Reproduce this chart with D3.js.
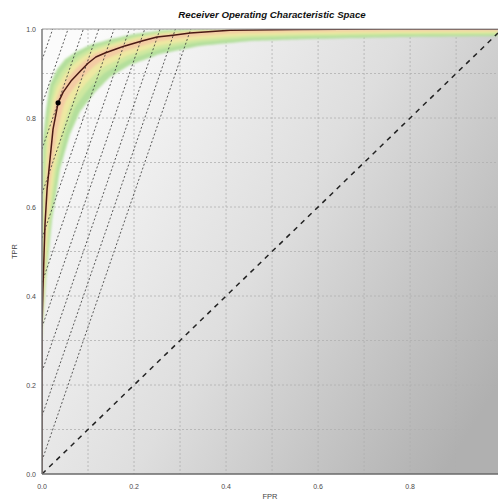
<!DOCTYPE html>
<html>
<head>
<meta charset="utf-8">
<script src="https://cdn.jsdelivr.net/npm/d3@7/dist/d3.min.js"></script>
<style>
  html, body { margin: 0; padding: 0; background: #fff; }
  svg { display: block; }
</style>
</head>
<body>
<svg id="chart" width="498" height="500"></svg>
<script>
// ---- data ----
const title = "Receiver Operating Characteristic Space";
const xLabel = "FPR";
const yLabel = "TPR";
const xTickLabels = [0.0, 0.2, 0.4, 0.6, 0.8];
const yTickLabels = [0.0, 0.2, 0.4, 0.6, 0.8, 1.0];
const gridValues = [0.1, 0.2, 0.3, 0.4, 0.5, 0.6, 0.7, 0.8, 0.9, 1.0];
const xMax = 0.991;

// ROC curve
const rocFPR = [0, 0, 0.002, 0.0065, 0.011, 0.017, 0.024, 0.035, 0.046, 0.063, 0.083, 0.100, 0.117, 0.137, 0.161, 0.180, 0.217, 0.25, 0.285, 0.322, 0.409, 0.55, 0.75, 0.991];
const rocTPR = [0, 0.324, 0.414, 0.56, 0.64, 0.703, 0.775, 0.834, 0.858, 0.883, 0.905, 0.923, 0.937, 0.946, 0.955, 0.962, 0.973, 0.982, 0.986, 0.991, 0.997, 0.999, 1.0, 1.0];

// confidence band bounds
const upperFPR = [0, 0.002, 0.009, 0.017, 0.033, 0.05, 0.076, 0.104, 0.148, 0.202, 0.267, 0.343, 0.991];
const upperTPR = [0.617, 0.752, 0.82, 0.876, 0.91, 0.932, 0.95, 0.964, 0.977, 0.989, 0.998, 1.0, 1.0];
const lowerFPR = [0, 0.009, 0.022, 0.039, 0.061, 0.083, 0.115, 0.148, 0.191, 0.257, 0.343, 0.452, 0.561, 0.778, 0.991];
const lowerTPR = [0.302, 0.437, 0.572, 0.685, 0.764, 0.815, 0.858, 0.892, 0.919, 0.944, 0.962, 0.973, 0.977, 0.982, 0.984];

// operating point
const pointFPR = [0.035];
const pointTPR = [0.834];

// iso-performance lines: TPR = slope * FPR + intercept
const isoSlope = 3;
const isoIntercepts = [0.03, 0.13, 0.23, 0.33, 0.43, 0.53, 0.63, 0.73, 0.83, 0.93];

// ---- chart ----
const svg = d3.select("#chart");
const L = 42, R = 498, T = 29, B = 474;
const x = d3.scaleLinear().domain([0, xMax]).range([L, R]);
const y = d3.scaleLinear().domain([0, 1]).range([B, T]);
const FONT = "Liberation Sans, Arial, sans-serif";

const defs = svg.append("defs");
const bg = defs.append("linearGradient").attr("id", "bg")
  .attr("x1", 0).attr("y1", 0.2).attr("x2", 1).attr("y2", 0.8);
bg.append("stop").attr("offset", 0).attr("stop-color", "#fbfbfb");
bg.append("stop").attr("offset", 0.5).attr("stop-color", "#dedede");
bg.append("stop").attr("offset", 1).attr("stop-color", "#b0b0b0");

defs.append("clipPath").attr("id", "plotClip").append("rect")
  .attr("x", L).attr("y", T).attr("width", R - L).attr("height", B - T);

const blur = defs.append("filter").attr("id", "soft")
  .attr("x", "-10%").attr("y", "-10%").attr("width", "120%").attr("height", "120%");
blur.append("feGaussianBlur").attr("stdDeviation", 1.1);

// pixel-space helpers
const rocPx = rocFPR.map((f, i) => [x(f), y(rocTPR[i])]);
const upperPx = upperFPR.map((f, i) => [x(f), y(upperTPR[i])]);
const lowerPx = lowerFPR.map((f, i) => [x(f), y(lowerTPR[i])]);

function densify(pts, n) {
  const out = [];
  for (let i = 0; i < pts.length - 1; i++) {
    const a = pts[i], b = pts[i + 1];
    for (let k = 0; k < n; k++) {
      const t = k / n;
      out.push([a[0] + (b[0] - a[0]) * t, a[1] + (b[1] - a[1]) * t]);
    }
  }
  out.push(pts[pts.length - 1]);
  return out;
}
function nearestOnCurve(p) {
  let best = null, bd = Infinity;
  for (let i = 0; i < rocPx.length - 1; i++) {
    const a = rocPx[i], b = rocPx[i + 1];
    const dx = b[0] - a[0], dy = b[1] - a[1];
    const len2 = dx * dx + dy * dy || 1e-9;
    let t = ((p[0] - a[0]) * dx + (p[1] - a[1]) * dy) / len2;
    t = Math.max(0, Math.min(1, t));
    const q = [a[0] + dx * t, a[1] + dy * t];
    const d = (q[0] - p[0]) ** 2 + (q[1] - p[1]) ** 2;
    if (d < bd) { bd = d; best = q; }
  }
  return best;
}
const upDense = densify(upperPx, 12).map(p => ({ p, q: nearestOnCurve(p) }));
const loDense = densify(lowerPx, 12).map(p => ({ p, q: nearestOnCurve(p) }));
function bandAt(t) {
  const up = upDense.map(o => [o.q[0] + (o.p[0] - o.q[0]) * t, o.q[1] + (o.p[1] - o.q[1]) * t]);
  const lo = loDense.map(o => [o.q[0] + (o.p[0] - o.q[0]) * t, o.q[1] + (o.p[1] - o.q[1]) * t]);
  const pts = lo.concat(up.slice().reverse());
  return "M" + pts.map(p => p[0].toFixed(2) + "," + p[1].toFixed(2)).join("L") + "Z";
}

// background
svg.append("rect").attr("x", L).attr("y", T).attr("width", R - L).attr("height", B - T)
  .attr("fill", "url(#bg)");

// grid
const grid = svg.append("g").attr("clip-path", "url(#plotClip)");
grid.selectAll("line.gx").data(gridValues).join("line").attr("class", "gx")
  .attr("x1", d => x(d)).attr("x2", d => x(d)).attr("y1", T).attr("y2", B)
  .attr("stroke", "#b0b0b0").attr("stroke-width", 0.8).attr("stroke-dasharray", "2,2");
grid.selectAll("line.gy").data(gridValues).join("line").attr("class", "gy")
  .attr("y1", d => y(d)).attr("y2", d => y(d)).attr("x1", L).attr("x2", R)
  .attr("stroke", "#b0b0b0").attr("stroke-width", 0.8).attr("stroke-dasharray", "2,2");

const plot = svg.append("g").attr("clip-path", "url(#plotClip)");

// confidence band (layered)
const bandLayers = [
  { t: 1.0, c: "#b4df9c" },
  { t: 0.72, c: "#cfe8a0" },
  { t: 0.5, c: "#eee8a2" },
  { t: 0.25, c: "#f4cba4" }
];
const bandG = plot.append("g").attr("filter", "url(#soft)");
bandG.selectAll("path").data(bandLayers).join("path")
  .attr("d", d => bandAt(d.t)).attr("fill", d => d.c);

// iso-performance lines
plot.selectAll("line.iso").data(isoIntercepts).join("line").attr("class", "iso")
  .attr("x1", x(0)).attr("y1", d => y(d))
  .attr("x2", d => x((1 - d) / isoSlope)).attr("y2", y(1))
  .attr("stroke", "#333").attr("stroke-width", 0.8).attr("stroke-dasharray", "2,2");

// diagonal
plot.append("line")
  .attr("x1", x(0)).attr("y1", y(0)).attr("x2", x(xMax)).attr("y2", y(xMax))
  .attr("stroke", "#222").attr("stroke-width", 1.5).attr("stroke-dasharray", "5,5");

// top frame
svg.append("line").attr("x1", L).attr("x2", R).attr("y1", T).attr("y2", T)
  .attr("stroke", "#999").attr("stroke-width", 1);

// ROC curve
const rocLine = d3.line().x(d => x(d[0])).y(d => y(d[1]));
plot.append("path").attr("d", rocLine(rocFPR.map((f, i) => [f, rocTPR[i]])))
  .attr("fill", "none")
  .attr("stroke", "#4a1a14").attr("stroke-width", 1.5).attr("stroke-linejoin", "round");

// point
plot.selectAll("circle.pt").data(pointFPR).join("circle").attr("class", "pt")
  .attr("cx", d => x(d)).attr("cy", (d, i) => y(pointTPR[i])).attr("r", 2.6).attr("fill", "#000");

// axes lines
svg.append("line").attr("x1", L).attr("x2", L).attr("y1", T).attr("y2", B)
  .attr("stroke", "#7a7a7a").attr("stroke-width", 1.5);
svg.append("line").attr("x1", L).attr("x2", R).attr("y1", B).attr("y2", B)
  .attr("stroke", "#6a6a6a").attr("stroke-width", 1.5);

// tick labels
const fmt = d3.format(".1f");
svg.selectAll("text.xt").data(xTickLabels).join("text").attr("class", "xt")
  .attr("x", d => x(d)).attr("y", 489)
  .attr("text-anchor", "middle")
  .attr("font-family", FONT).attr("font-size", 7)
  .attr("fill", "#4a4a4a").text(d => fmt(d));
svg.selectAll("text.yt").data(yTickLabels).join("text").attr("class", "yt")
  .attr("x", 36).attr("y", d => y(d) + 2.5)
  .attr("text-anchor", "end")
  .attr("font-family", FONT).attr("font-size", 7)
  .attr("fill", "#4a4a4a").text(d => fmt(d));

// axis titles
svg.append("text").attr("x", (L + R) / 2).attr("y", 499)
  .attr("text-anchor", "middle")
  .attr("font-family", FONT).attr("font-size", 7.5)
  .attr("fill", "#444").text(xLabel);
svg.append("text").attr("transform", `translate(17,${(T + B) / 2}) rotate(-90)`)
  .attr("text-anchor", "middle")
  .attr("font-family", FONT).attr("font-size", 7.5)
  .attr("fill", "#444").text(yLabel);

// title
svg.append("text").attr("x", 272).attr("y", 18)
  .attr("text-anchor", "middle")
  .attr("font-family", FONT).attr("font-size", 9.7)
  .attr("font-weight", "bold").attr("font-style", "italic")
  .attr("fill", "#111").text(title);
</script>
</body>
</html>
